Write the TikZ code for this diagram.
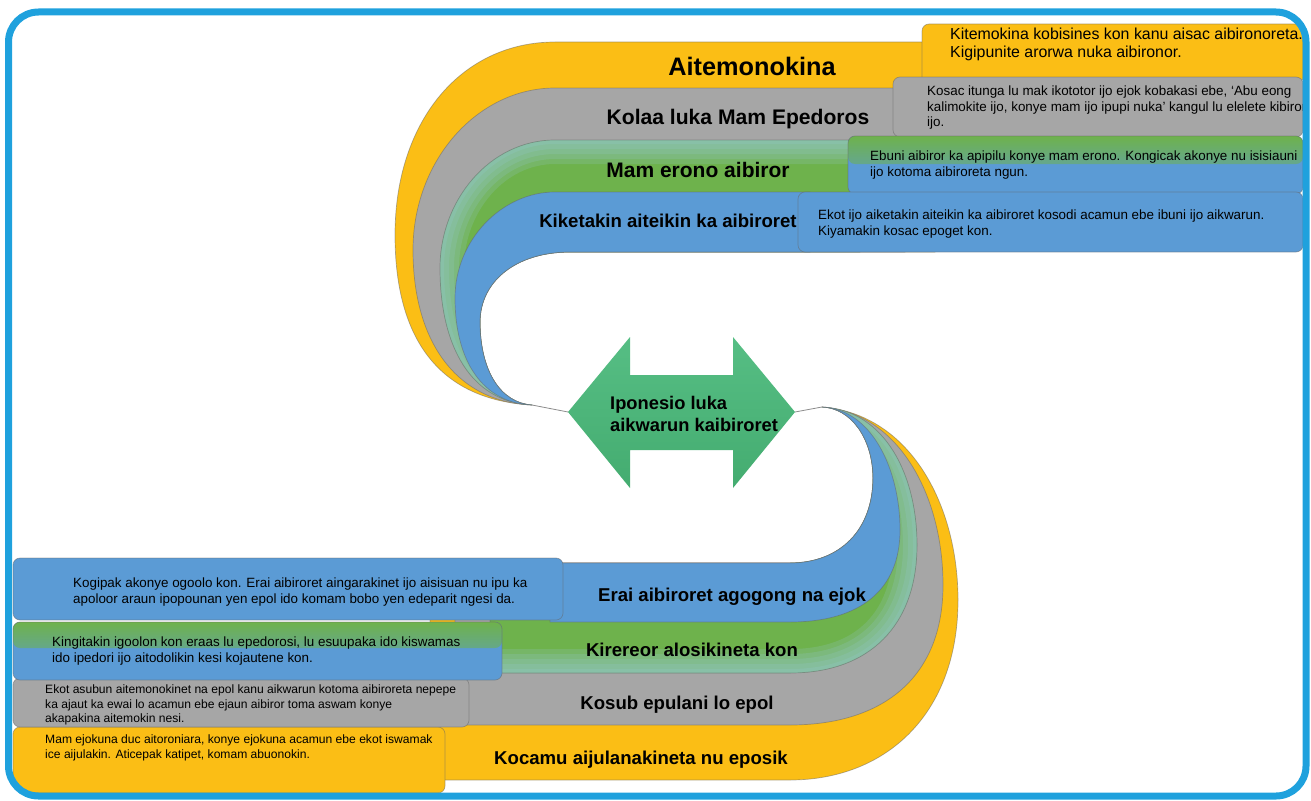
\documentclass[tikz,border=0pt]{standalone}
\usepackage{fontspec}
\setmainfont{Liberation Sans}
\definecolor{rimblue}{RGB}{31,161,221}
\definecolor{bandyellow}{RGB}{251,190,21}
\definecolor{bandgray}{RGB}{166,166,166}
\definecolor{bandblue}{RGB}{91,155,213}
\definecolor{bandgreen}{RGB}{110,178,76}
\definecolor{bandteal}{RGB}{152,200,214}
\definecolor{arrowtop}{RGB}{86,190,132}
\definecolor{arrowbottom}{RGB}{68,172,112}
\tikzset{
  band/.style={draw=black!60, draw opacity=.5, line width=.7pt},
  tab/.style={band, rounded corners=7pt},
  heading/.style={font=\bfseries\fontsize{18.6}{22}\selectfont, anchor=base, inner sep=0pt},
  note/.style={font=\fontsize{13.4}{15.5}\selectfont, align=left, anchor=west, inner sep=0pt},
  small note/.style={note, font=\fontsize{12.1}{14.5}\selectfont},
  link/.style={draw=black!45, line width=.8pt},
  tealedge/.style={bandteal, line width=#1, opacity=.2},
}
\begin{document}
\begin{tikzpicture}[x=1pt, y=-1pt]
  \useasboundingbox (0,0) rectangle (1311,800);
  \coordinate (uconv) at (532,405);
  \coordinate (lconv) at (822,407);
  \coordinate (arrW) at (568,412);
  \coordinate (arrE) at (795,412);
  \begin{scope}
    \clip[rounded corners=30pt] (8.5,12) rectangle (1306,796);
    % upper half
    \draw[band, fill=bandyellow] (935,42) -- (555,42) .. controls (462,42) and (395,120) .. (395,235) .. controls (395,340) and (440,400) .. (uconv) .. controls (500,403) and (480,370) .. (480,322) .. controls (480,282) and (515,252) .. (570,252) -- (935,252) -- cycle;
    \draw[tab, fill=bandyellow] (922,24) rectangle (1303,84);
    \draw[band, fill=bandgray] (905,88) -- (555,88) .. controls (478,88) and (413,160) .. (413,250) .. controls (413,340) and (455,402) .. (uconv) .. controls (500,403) and (480,370) .. (480,322) .. controls (480,282) and (515,252) .. (570,252) -- (905,252) -- cycle;
    \draw[tab, fill=bandgray] (893,77) rectangle (1303,137);
    \draw[band, fill=bandgreen, path picture={
        \foreach \w in {48,38,28,18,8}
          \draw[tealedge=\w pt] (870,140) -- (555,140) .. controls (490,140) and (440,200) .. (440,268) .. controls (440,345) and (470,402) .. (uconv);}]
      (860,140) -- (555,140) .. controls (490,140) and (440,200) .. (440,268) .. controls (440,345) and (470,402) .. (uconv) .. controls (500,403) and (480,370) .. (480,322) .. controls (480,282) and (515,252) .. (570,252) -- (860,252) -- cycle;
    \draw[tab, fill=bandblue, path picture={\shade[top color=bandgreen, bottom color=bandblue] (848,136) rectangle (1303,164);}] (848,136) rectangle (1303,194);
    \draw[band, fill=bandblue] (810,192) -- (555,192) .. controls (502,192) and (455,240) .. (455,298) .. controls (455,360) and (482,403) .. (uconv) .. controls (500,403) and (480,370) .. (480,322) .. controls (480,282) and (515,252) .. (570,252) -- (810,252) -- cycle;
    \draw[tab, fill=bandblue] (798,192) rectangle (1303,252);
    % lower half
    \draw[band, fill=bandyellow] (lconv) .. controls (910,414) and (958,505) .. (958,600) .. controls (958,715) and (885,780) .. (790,780) -- (430,780) -- (430,563) -- (790,563) .. controls (840,563) and (873,530) .. (873,478) .. controls (873,440) and (852,408) .. (lconv) -- cycle;
    \draw[tab, fill=bandyellow] (13,727) rectangle (445,793);
    \draw[band, fill=bandgray] (lconv) .. controls (898,412) and (943,495) .. (943,585) .. controls (943,680) and (880,725) .. (790,725) -- (455,725) -- (455,563) -- (790,563) .. controls (840,563) and (873,530) .. (873,478) .. controls (873,440) and (852,408) .. (lconv) -- cycle;
    \draw[tab, fill=bandgray] (13,678) rectangle (469,727);
    \draw[band, fill=bandgreen, path picture={
        \foreach \w in {48,38,28,18,8}
          \draw[tealedge=\w pt] (lconv) .. controls (885,410) and (917,475) .. (917,545) .. controls (917,625) and (870,673) .. (790,673) -- (480,673);}]
      (lconv) .. controls (885,410) and (917,475) .. (917,545) .. controls (917,625) and (870,673) .. (790,673) -- (490,673) -- (490,563) -- (790,563) .. controls (840,563) and (873,530) .. (873,478) .. controls (873,440) and (852,408) .. (lconv) -- cycle;
    \draw[tab, fill=bandblue, path picture={\shade[top color=bandgreen, bottom color=bandblue] (13,622) rectangle (502,648);}] (13,622) rectangle (502,680);
    \draw[band, fill=bandblue] (lconv) .. controls (872,409) and (900,470) .. (900,530) .. controls (900,590) and (860,622) .. (790,622) -- (550,622) -- (550,563) -- (790,563) .. controls (840,563) and (873,530) .. (873,478) .. controls (873,440) and (852,408) .. (lconv) -- cycle;
    \draw[tab, fill=bandblue] (13,558) rectangle (563,620);
  \end{scope}
  % centre arrow
  \draw[link] (uconv) -- (arrW);
  \draw[link] (arrE) -- (lconv);
  \shade[top color=arrowtop, bottom color=arrowbottom] (arrW) -- (630,337) -- (630,375) -- (733,375) -- (733,337) -- (arrE) -- (733,488) -- (733,450) -- (630,450) -- (630,488) -- cycle;
  \node[font=\bfseries\fontsize{18.3}{22}\selectfont, align=left, anchor=west, inner sep=0pt] (ipon) at (610,414) {Iponesio luka\\aikwarun kaibiroret};
  % headings
  \node[heading, font=\bfseries\fontsize{25.3}{28}\selectfont] (h1) at (752,75) {Aitemonokina};
  \node[heading, font=\bfseries\fontsize{21.1}{24}\selectfont] (h2) at (738,124.5) {Kolaa luka Mam Epedoros};
  \node[heading, font=\bfseries\fontsize{21}{24}\selectfont] (h3) at (698,177.5) {Mam erono aibiror};
  \node[heading] (h4) at (668,227.7) {Kiketakin aiteikin ka aibiroret};
  \node[heading] (h5) at (732,601.7) {Erai aibiroret agogong na ejok};
  \node[heading] (h6) at (692,656.7) {Kirereor alosikineta kon};
  \node[heading] (h7) at (677,709.7) {Kosub epulani lo epol};
  \node[heading] (h8) at (641,764.7) {Kocamu aijulanakineta nu eposik};
  % notes
  \node[note, font=\fontsize{15.9}{18}\selectfont] (d1) at (950,44) {Kitemokina kobisines kon kanu aisac aibironoreta.\\Kigipunite arorwa nuka aibironor.};
  \node[note] (d2) at (927,108) {Kosac itunga lu mak ikototor ijo ejok kobakasi ebe, ‘Abu eong\\kalimokite ijo, konye mam ijo ipupi nuka’ kangul lu elelete kibiror\\ijo.};
  \node[note] (d3) at (870,165) {Ebuni aibiror ka apipilu konye mam erono. Kongicak akonye nu isisiauni\\ijo kotoma aibiroreta ngun.};
  \node[note] (d4) at (818,224) {Ekot ijo aiketakin aiteikin ka aibiroret kosodi acamun ebe ibuni ijo aikwarun.\\Kiyamakin kosac epoget kon.};
  \node[note] (d5) at (73,592) {Kogipak akonye ogoolo kon. Erai aibiroret aingarakinet ijo aisisuan nu ipu ka\\apoloor araun ipopounan yen epol ido komam bobo yen edeparit ngesi da.};
  \node[note] (d6) at (52,651) {Kingitakin igoolon kon eraas lu epedorosi, lu esuupaka ido kiswamas\\ido ipedori ijo aitodolikin kesi kojautene kon.};
  \node[small note] (d7) at (45,705) {Ekot asubun aitemonokinet na epol kanu aikwarun kotoma aibiroreta nepepe\\ka ajaut ka ewai lo acamun ebe ejaun aibiror toma aswam konye\\akapakina aitemokin nesi.};
  \node[small note] (d8) at (45,748) {Mam ejokuna duc aitoroniara, konye ejokuna acamun ebe ekot iswamak\\ice aijulakin. Aticepak katipet, komam abuonokin.};
  % frame
  \draw[rimblue, line width=7pt, rounded corners=30pt] (8.5,12) rectangle (1306,796);
\end{tikzpicture}
\end{document}
